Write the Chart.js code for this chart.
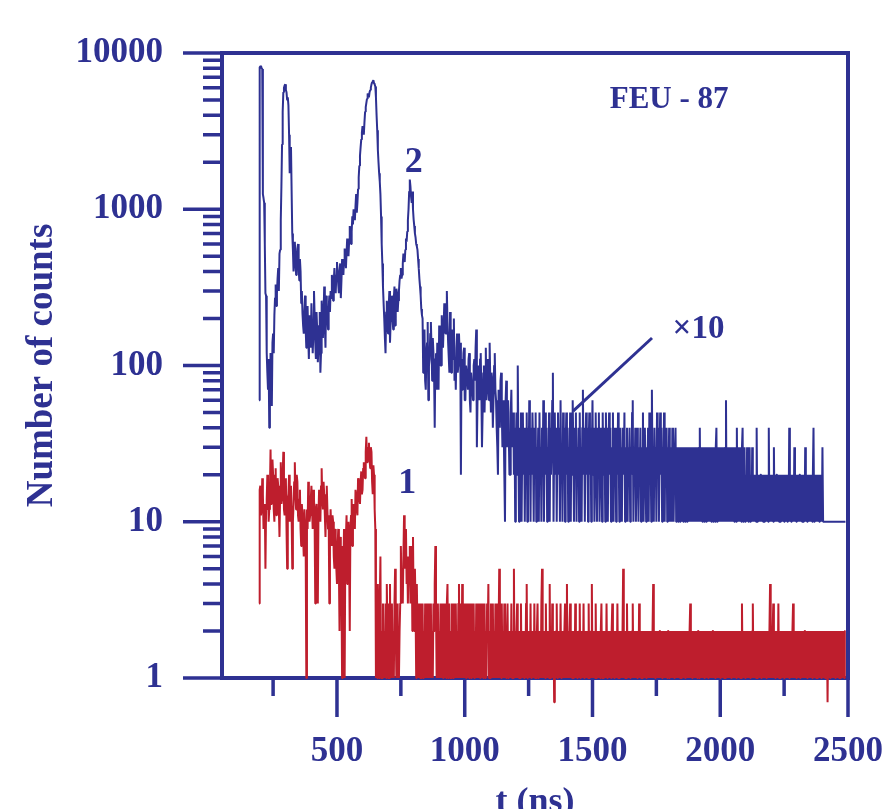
<!DOCTYPE html>
<html><head><meta charset="utf-8">
<script src="https://cdn.jsdelivr.net/npm/chart.js@4.4.1/dist/chart.umd.min.js"></script>
<style>html,body{margin:0;padding:0;overflow:hidden;background:#fff;width:885px;height:809px}canvas{display:block}</style>
</head><body>
<canvas id="c" width="885" height="840"></canvas>
<script>
// channel time grid (ns): first channel at 195 ns, one channel every 2.5 ns
const T0_NS = 195, STEP_NS = 2.5;

// curve 1 : counts, first part (t = 195 ... 650 ns)
const curve1Head = [
3,16,17,11,12,19,15,9,10,13,5,12,14,20,18,10,12,16,29,13,
15,25,20,12,10,16,22,11,13,19,17,12,8,15,24,13,14,20,28,12,
11,17,19,9,5,14,15,20,10,13,17,11,5,10,13,18,24,15,12,20,
18,11,10,14,16,9,7,13,11,8,6,12,10,7,1,12,9,18,15,10,
11,14,17,12,9,16,14,10,3,12,13,8,3,11,16,12,10,17,22,14,
12,18,15,11,8,13,17,12,9,11,3,7,12,9,7,11,10,6,5,9,
8,5,4,7,9,5,2,8,6,4,1,7,5,9,1,6,8,11,4,9,
10,6,2,9,11,14,7,12,13,10,9,16,15,12,11,19,17,14,13,18,
21,15,16,22,24,20,19,28,35,24,26,30,32,25,22,30,28,18,15,23,
20,12,9
];
// curve 1 : counts, second part (t = 652.5 ... 2490 ns)
const curve1Tail = [
1,3,1,4,2,1,3,6,1,2,1,3,1,2,1,3,1,4,2,1,
3,1,4,1,2,3,1,2,1,3,5,2,1,3,1,2,1,2,3,7,
4,5,3,6,11,5,7,9,4,6,3,5,4,7,3,6,7,2,8,3,
2,5,3,1,4,2,3,1,2,1,3,1,2,3,1,2,1,3,2,1,
3,1,2,3,1,2,3,1,2,1,3,2,4,7,3,1,2,3,1,2,
1,3,2,1,3,1,2,3,1,2,1,3,4,1,2,3,1,2,1,3,
2,1,3,1,2,3,1,2,1,3,4,1,2,3,1,4,1,3,2,1,
3,1,2,3,1,2,1,3,2,1,3,1,2,3,1,2,1,3,2,1,
3,1,2,1,3,2,1,3,1,2,3,1,2,1,3,2,4,1,2,1,
3,1,2,3,1,2,1,3,2,1,3,1,2,5,1,2,1,3,1,2,
1,3,1,2,1,2,3,1,2,1,2,1,3,1,2,1,5,1,2,1,
2,3,1,2,1,2,1,3,1,2,1,2,1,2,1,3,4,1,2,1,
2,1,3,1,2,1,2,1,3,1,2,1,2,3,1,2,1,2,1,3,
5,1,2,1,2,1,3,1,2,1,2,1,4,1,2,1,3,1,2,0.7,
2,1,2,3,1,2,1,2,1,3,1,2,1,2,1,2,3,1,2,4,
1,2,1,2,3,1,2,1,2,1,2,1,3,1,2,1,2,1,2,3,
1,2,1,2,1,3,1,2,1,2,1,2,1,3,1,2,1,2,4,1,
2,1,2,1,3,1,2,1,2,1,2,1,2,3,1,2,1,2,1,2,
1,3,1,2,1,2,1,2,1,2,3,1,2,1,2,1,2,1,3,1,
2,1,2,1,2,1,2,5,1,2,1,2,1,3,1,2,1,2,1,2,
1,2,3,1,2,1,2,1,2,1,2,1,3,1,2,1,2,1,2,1,
2,1,2,1,2,1,2,1,2,2,1,2,1,2,4,1,2,1,2,1,
2,1,2,1,2,2,1,2,1,2,1,2,1,2,1,2,1,2,2,1,
2,1,2,1,2,1,2,1,2,1,2,2,1,2,1,2,1,2,1,2,
1,2,1,2,1,2,1,2,1,2,1,2,3,1,2,1,2,1,2,1,
2,1,2,1,2,2,1,2,1,2,1,2,1,2,1,2,1,2,1,2,
1,2,1,2,1,2,1,2,2,1,2,1,2,1,2,1,2,1,2,1,
2,1,2,1,2,1,2,1,2,1,2,2,1,2,1,2,1,2,1,2,
1,2,1,2,1,2,1,2,1,2,1,2,1,3,1,2,1,2,1,2,
1,2,1,2,1,2,1,2,1,2,3,1,2,1,2,1,2,1,2,1,
2,1,2,1,2,1,2,1,2,1,2,1,2,1,2,1,2,4,1,2,
1,2,3,1,2,1,2,1,2,1,3,1,2,1,2,1,2,1,2,1,
2,1,2,1,2,1,2,1,2,1,2,1,2,3,1,2,1,2,1,2,
1,2,1,2,1,2,1,2,1,2,1,2,2,1,2,1,2,1,2,1,
2,1,2,1,2,1,2,1,2,1,2,1,2,1,2,1,2,1,2,1,
2,1,2,1,2,1,2,0.7,2,1,2,1,2,1,2,1,2,1,2,1,
2,1,2,1,2,1,2,1,2,1,2,1,2,1,2,2
];

// curve 2 : counts, first part (t = 195 ... 835 ns), plotted multiplied by 10
const curve2Head = [
6,810,820,830,800,790,125,118,110,60,29,28,12,9,7,11,4,6,12,8,
5.5,14,16,12,21,27,33,24,29,36,42,30,52,55,85,140,260,420,560,600,
620,630,580,560,500,520,460,300,170,210,250,130,70,55,40,45,62,50,38,44,
56,60,42,35,48,40,25,30,21.5,18,16,22,28,17,13,20,24,15,11,21,
17,13,25,19,12,16,30,21,14,11,22,17,10.5,13,18,22,9,12,26,20,
15,21,32,18,13,28,24,20,17,23,28,22,30,27,38,33,26,35,42,36,
29,38,46,40,33,29,40,45,27,35,48,42,38,47,56,50,42,53,65,58,
50,62,78,70,60,72,90,80,100,95,85,105,125,95,110,135,160,190,220,250,
280,310,340,320,300,360,420,450,480,510,550,540,520,560,580,600,630,650,660,670,
640,630,610,520,400,320,240,200,170,150,125,90,60,45,32,25,20,15,12,22,
26,18,16,24,30,14,19,22,28,20,17,27,32,18,23,31,29,22,26,30,
35,38,42,36,38,45,52,48,46,55,65,62,72,85,100,130,155,140,120,110,
130,100,86,78,70,66,60,58,55,48,42,36,32,28,23,21,20
];
// curve 2 : counts, second part (t = 837.5 ... 2490 ns), plotted multiplied by 10
const curve2Tail = [
9,14,17,8,7,12,14,19,6,10,11,16,19,13,8,15,12,9,4,11,
12,7,14,9,7,18,12,10,10,21,15,13,13,25,18,16,16,30,19,14,
14,9,22,12,9,15,17,11,20,8,11,7,13,16,9,10,16,12,14,2,
11,7,8,12,13,6,6,10,10,8,7,11,12,6,5,9,9,7,6,10,
11,8,13,17,3,6,10,8,6,11,12,7,3,5,9,10,5,8,13,6,
7,11,10,6,14,8,5,9,8,4,6,10,12,7,6,4,3,2,7,5,
4,8,9,5,3,6,4,2,1,6,8,3,4,6,6,2,2,5,7,3,
3,5,2,4,1,3,5,2,10,3,1,4,2,5,1,3,5,2,4,1,
3,2,5,1,4,2,6,3,1,4,2,5,3,1,4,2,5,1,3,2,
4,1,5,2,3,1,4,2,6,1,3,5,2,4,1,3,2,5,1,4,
2,3,6,9,1,3,5,2,4,1,3,5,2,4,1,6,2,3,1,5,
2,4,1,3,5,2,4,1,3,2,5,1,4,2,6,3,1,4,2,5,
1,3,2,4,1,5,2,3,1,4,7,2,4,1,3,5,2,4,1,3,
5,2,4,1,3,6,2,4,1,3,5,2,1,4,3,5,1,2,4,3,
1,5,2,4,3,1,5,2,4,1,3,5,2,4,1,3,2,5,1,4,
2,3,1,4,2,5,3,1,4,2,3,1,4,3,2,5,1,3,2,4,
1,3,2,4,1,3,2,5,6,1,3,2,4,1,3,4,2,1,3,2,
4,1,3,2,5,1,3,4,2,1,3,2,4,1,5,2,3,1,7,2,
3,1,4,2,3,1,5,2,4,1,3,5,2,4,1,3,2,5,1,3,
2,4,1,3,2,4,1,3,2,1,4,3,1,2,3,4,1,3,2,1,
3,2,1,3,2,1,3,1,2,3,1,2,3,1,2,3,1,3,2,1,
3,2,1,3,2,1,3,2,1,3,2,1,3,4,1,2,3,1,3,2,
1,3,2,1,3,1,2,3,1,3,2,1,3,2,1,3,2,1,3,4,
1,3,2,1,3,2,1,3,2,1,3,2,1,3,6,1,3,2,1,3,
2,1,3,2,1,3,2,1,3,2,1,4,1,3,2,1,3,2,1,3,
4,1,2,3,1,2,1,3,2,1,2,3,1,2,1,3,2,1,2,1,
2,1,4,1,2,1,2,1,2,2,1,2,1,2,1,2,1,2,1,2,
1,4,1,2,1,2,1,2,1,3,1,2,1,2,2,1,2,1,2,1,
2,1,2,1,2,1,2,1,2,2,1,2,1,4,1,2,1,2,1,2,
1,3,1,2,1,2,1,2,1,2,2,1,2,1,2,1,2,1,3,1,
2,1,2,1,2,1,2,1,2,1,2,4,1,2,1,2,1,2,1,2,
1,2,1,2,1,3,1,1,1,1,1,1,1,1,1,1,1,1,1,1,
1,1,1,1,1,1,1,1,1,1,1,1,1,1,1,1,1,1,1,1,1,1
];
const CURVE2_FACTOR = 10;

// axes
const xMin = 50, xMax = 2500;
const xMajorTicks = [500, 1000, 1500, 2000, 2500];
const xMinorTicks = [250, 750, 1250, 1750, 2250];
const yMin = 1, yMax = 10000;
const yMajorTicks = [1, 10, 100, 1000, 10000];
const yMinorFactors = [2, 3, 4, 5, 6, 7, 8, 9];
const xTitle = 't (ns)';
const yTitle = 'Number of counts';

// annotations (data coordinates)
const notes = [
  { text: '2', t: 800, v: 2000, size: 36 },
  { text: '1', t: 775, v: 17.5, size: 36 },
  { text: 'FEU - 87', t: 1800, v: 5000, size: 31 },
  { text: '×10', t: 1915, v: 170, size: 33 }
];
const factorPointer = { t1: 1424, v1: 51, t2: 1733, v2: 150 };

const BLUE = '#2E3192', RED = '#BE1E2D';
const FONT = "'Liberation Serif', 'Times New Roman', serif";

const yMinorTicks = [];
yMajorTicks.slice(0, -1).forEach(d => yMinorFactors.forEach(f => yMinorTicks.push(d * f)));

const toPoints = (counts, k) => counts.map((c, n) => ({ x: T0_NS + STEP_NS * n, y: c * k }));

const framePlugin = {
  id: 'frame',
  beforeDatasetsDraw(chart) {
    const { ctx, chartArea: a, scales: { x, y } } = chart;
    ctx.save();
    ctx.strokeStyle = BLUE;
    ctx.lineWidth = 4;
    ctx.strokeRect(a.left, a.top, a.right - a.left, a.bottom - a.top);
    ctx.lineWidth = 3.5;
    ctx.beginPath();
    yMajorTicks.forEach(v => { const p = y.getPixelForValue(v); ctx.moveTo(a.left - 39, p); ctx.lineTo(a.left, p); });
    yMinorTicks.forEach(v => { const p = y.getPixelForValue(v); ctx.moveTo(a.left - 19, p); ctx.lineTo(a.left, p); });
    xMajorTicks.forEach(v => { const p = x.getPixelForValue(v); ctx.moveTo(p, a.bottom); ctx.lineTo(p, a.bottom + 39); });
    xMinorTicks.forEach(v => { const p = x.getPixelForValue(v); ctx.moveTo(p, a.bottom); ctx.lineTo(p, a.bottom + 18); });
    ctx.stroke();
    ctx.restore();
  },
  afterDatasetsDraw(chart) {
    const { ctx, scales: { x, y } } = chart;
    ctx.save();
    ctx.fillStyle = BLUE;
    ctx.textAlign = 'center';
    ctx.textBaseline = 'middle';
    notes.forEach(n => {
      ctx.font = `bold ${n.size}px ${FONT}`;
      ctx.fillText(n.text, x.getPixelForValue(n.t), y.getPixelForValue(n.v));
    });
    ctx.strokeStyle = BLUE;
    ctx.lineWidth = 3;
    ctx.beginPath();
    ctx.moveTo(x.getPixelForValue(factorPointer.t1), y.getPixelForValue(factorPointer.v1));
    ctx.lineTo(x.getPixelForValue(factorPointer.t2), y.getPixelForValue(factorPointer.v2));
    ctx.stroke();
    ctx.restore();
  }
};

const lineStyle = { borderWidth: 2, pointRadius: 0, tension: 0, clip: false, borderJoinStyle: 'bevel' };

new Chart(document.getElementById('c'), {
  type: 'line',
  data: {
    datasets: [
      Object.assign({ label: 'Curve 1', data: toPoints(curve1Head.concat(curve1Tail), 1), borderColor: RED }, lineStyle),
      Object.assign({ label: 'Curve 2 (×10)', data: toPoints(curve2Head.concat(curve2Tail), CURVE2_FACTOR), borderColor: BLUE }, lineStyle)
    ]
  },
  options: {
    responsive: false,
    animation: false,
    devicePixelRatio: 1,
    layout: { padding: { top: 53, right: 37, left: 0, bottom: 0 } },
    plugins: { legend: { display: false }, tooltip: { enabled: false } },
    scales: {
      x: {
        type: 'linear', min: xMin, max: xMax,
        afterBuildTicks: s => { s.ticks = xMajorTicks.map(v => ({ value: v })); },
        afterFit: s => { s.height = 840 - 678; s.paddingLeft = 0; s.paddingRight = 0; },
        grid: { display: true, drawOnChartArea: false, drawTicks: true, tickLength: 39, tickColor: 'rgba(0,0,0,0)' },
        border: { display: false },
        ticks: { color: BLUE, font: { family: FONT, size: 35, weight: 'bold' }, padding: 14, maxRotation: 0, autoSkip: false, callback: v => String(v) },
        title: { display: true, text: xTitle, color: BLUE, font: { family: FONT, size: 36, weight: 'bold' }, padding: { top: 0, bottom: 16 } }
      },
      y: {
        type: 'logarithmic', min: yMin, max: yMax,
        afterBuildTicks: s => { s.ticks = yMajorTicks.map(v => ({ value: v })); },
        afterFit: s => { s.width = 222; s.paddingTop = 0; s.paddingBottom = 0; },
        grid: { display: true, drawOnChartArea: false, drawTicks: true, tickLength: 39, tickColor: 'rgba(0,0,0,0)' },
        border: { display: false },
        ticks: { color: BLUE, font: { family: FONT, size: 35, weight: 'bold' }, padding: 20, autoSkip: false, callback: v => String(v) },
        title: { display: true, text: yTitle, color: BLUE, font: { family: FONT, size: 37, weight: 'bold' }, padding: { top: 20, bottom: 0 } }
      }
    }
  },
  plugins: [framePlugin]
});
</script>
</body></html>
